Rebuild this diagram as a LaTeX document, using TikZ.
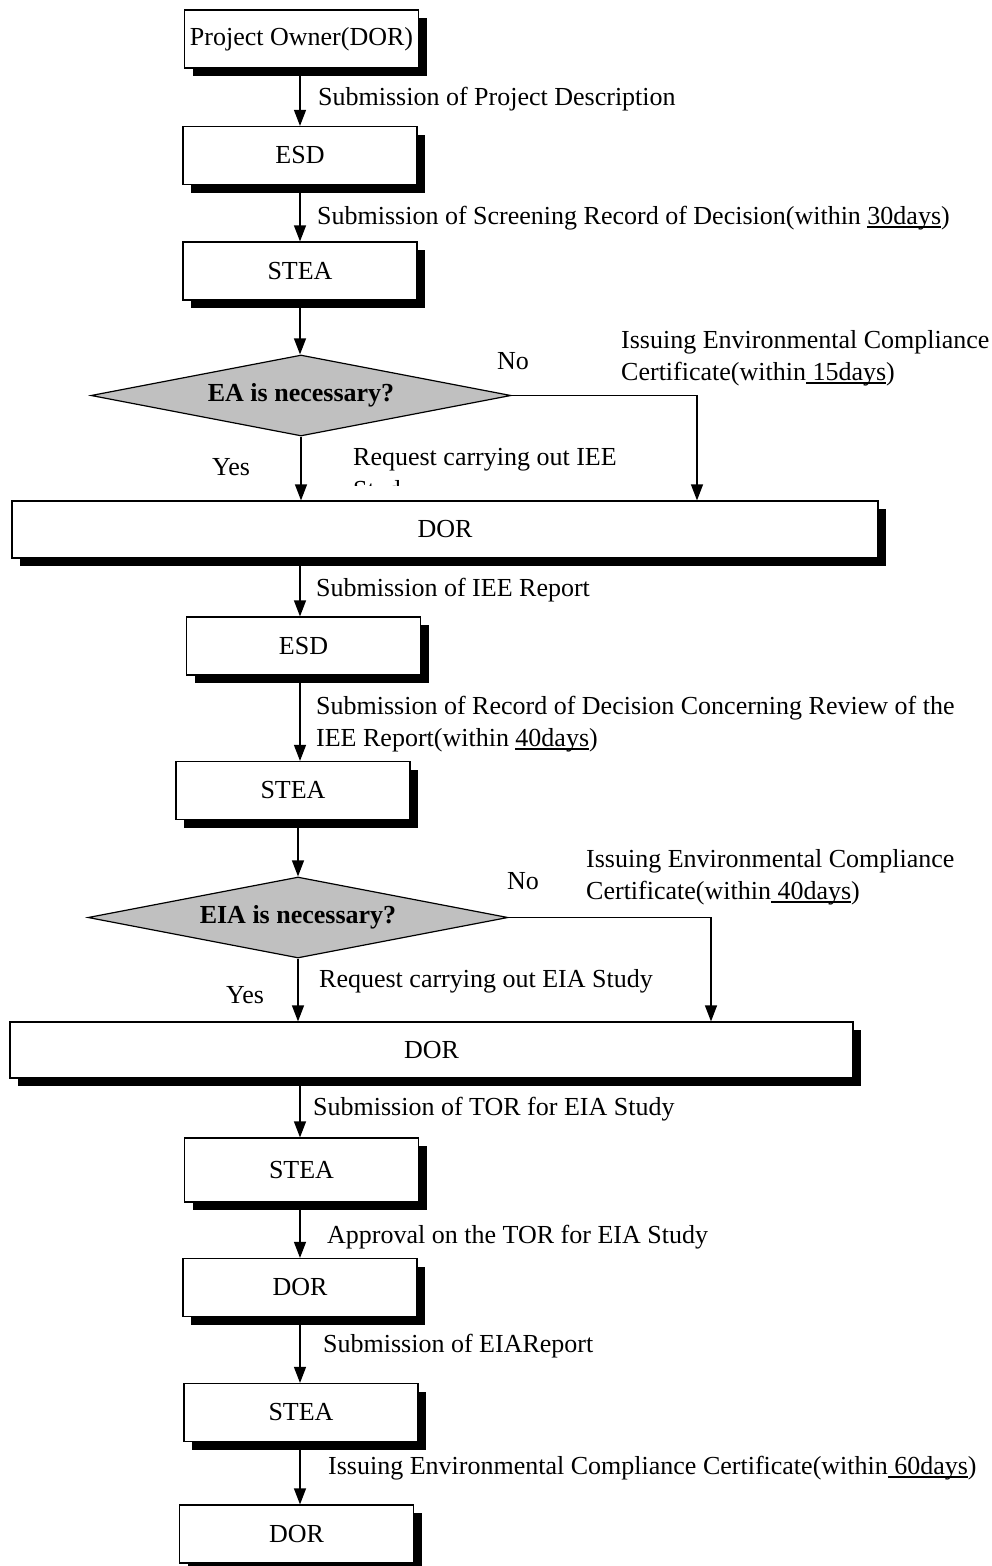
\documentclass[tikz,border=0pt]{standalone}
\usepackage{fontspec}
\setmainfont{Liberation Serif}
\newcommand{\myul}[1]{\setbox0\hbox{#1}\rlap{\rule[-3.5pt]{\wd0}{1.2pt}}\box0}
\usetikzlibrary{arrows.meta,shapes.geometric,shadows}
\definecolor{diagray}{HTML}{C0C0C0}
\begin{document}
\begin{tikzpicture}[x=1pt,y=-1pt,
  font=\fontsize{26}{32}\selectfont,
  box/.style={draw, line width=1.2pt, fill=white, inner sep=0pt,
    minimum width=234pt, minimum height=58pt,
    drop shadow={shadow xshift=8pt,shadow yshift=-8pt,fill=black,opacity=1}},
  dia/.style={draw, line width=1.2pt, fill=diagray, shape=diamond, inner sep=0pt, aspect=5,
    minimum width=420pt, minimum height=81pt, font=\fontsize{26}{32}\selectfont\bfseries},
  arr/.style={line width=1.2pt, -{Triangle[length=16pt,width=12pt]}},
  lbl/.style={anchor=base west, inner sep=0pt, align=left}]
\useasboundingbox (0,0) rectangle (992,1566);

% boxes
\node[box] (own) at (301.5,39) {Project Owner(DOR)};
\node[box] (esd1) at (300,155.5) {ESD};
\node[box] (stea1) at (300,271) {STEA};
\node[dia] (dia1) at (301,395.5) {EA is necessary?};
\node[box, minimum width=866pt, minimum height=57pt] (dor1) at (445,529.5) {DOR};
\node[box] (esd2) at (303.5,646) {ESD};
\node[box] (stea2) at (293,790.5) {STEA};
\node[dia] (dia2) at (298,917.5) {EIA is necessary?};
\node[box, minimum width=843pt, minimum height=56pt] (dor2) at (431.5,1050) {DOR};
\node[box, minimum height=64pt] (stea3) at (301.5,1170) {STEA};
\node[box] (dor3) at (300,1287.5) {DOR};
\node[box] (stea4) at (301,1412.5) {STEA};
\node[box] (dor4) at (296.5,1534) {DOR};

% connectors
\draw[arr] (esd1.north |- own.south) -- (esd1.north);
\draw[arr] (esd1.south) -- (esd1.south |- stea1.north);
\draw[arr] (stea1.south) -- (stea1.south |- dia1.north);
\draw[arr] (dia1.south) -- (dia1.south |- dor1.north);
\draw[arr] (dia1.east) -| ([xshift=252pt]dor1.north);
\draw[arr] ([xshift=-3.5pt]esd2.north |- dor1.south) -- ([xshift=-3.5pt]esd2.north);
\draw[arr] ([xshift=-3.5pt]esd2.south) -- ([xshift=-3.5pt]esd2.south |- stea2.north);
\draw[arr] ([xshift=5pt]stea2.south) -- ([xshift=5pt]stea2.south |- dia2.north);
\draw[arr] (dia2.south) -- (dia2.south |- dor2.north);
\draw[arr] (dia2.east) -| ([xshift=279.5pt]dor2.north);
\draw[arr] ([xshift=-1.5pt]stea3.north |- dor2.south) -- ([xshift=-1.5pt]stea3.north);
\draw[arr] (dor3.north |- stea3.south) -- (dor3.north);
\draw[arr] (dor3.south) -- (dor3.south |- stea4.north);
\draw[arr] ([xshift=-1pt]stea4.south) -- ([xshift=-1pt]stea4.south |- dor4.north);

% labels
\node[lbl] (l1) at (318,105) {Submission of Project Description};
\node[lbl] (l2) at (317,224) {Submission of Screening Record of Decision(within \myul{30days})};
\node[lbl] (no1) at (497,369) {No};
\node[lbl] (is1) at (621,380) {Issuing Environmental Compliance\\Certificate(within\myul{ 15days})};
\node[lbl] (yes1) at (212,475) {Yes};
\node[lbl] (rq1) at (353,465) {Request carrying out IEE};
\begin{scope}
\clip (340,470) rectangle (640,485);
\node[lbl] (rq1b) at (353,498) {Study};
\end{scope}
\node[lbl] (l3) at (316,596) {Submission of IEE Report};
\node[lbl] (l4) at (316,746) {Submission of Record of Decision Concerning Review of the\\IEE Report(within \myul{40days})};
\node[lbl] (no2) at (507,889) {No};
\node[lbl] (is2) at (586,899) {Issuing Environmental Compliance\\Certificate(within\myul{ 40days})};
\node[lbl] (yes2) at (226,1003) {Yes};
\node[lbl] (rq2) at (319,987) {Request carrying out EIA Study};
\node[lbl] (l5) at (313,1115) {Submission of TOR for EIA Study};
\node[lbl] (l6) at (327,1243) {Approval on the TOR for EIA Study};
\node[lbl] (l7) at (323,1352) {Submission of EIAReport};
\node[lbl] (l8) at (328,1474) {Issuing Environmental Compliance Certificate(within\myul{ 60days})};
\end{tikzpicture}
\end{document}
